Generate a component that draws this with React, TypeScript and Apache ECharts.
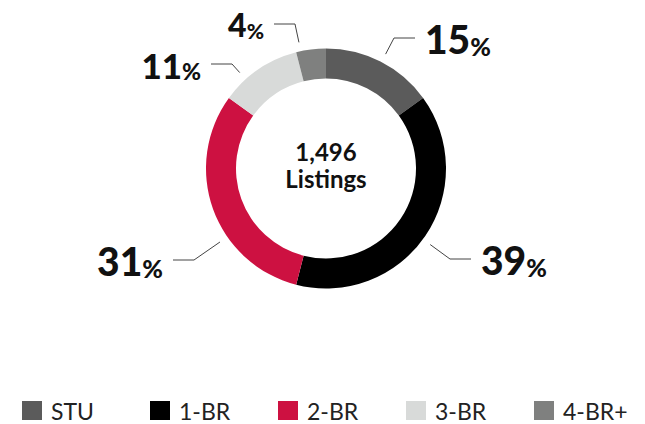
import React, { useEffect, useRef } from 'react';
import * as echarts from 'echarts';

// ---- data ----
const categories = ['STU', '1-BR', '2-BR', '3-BR', '4-BR+'];
const shares = [15, 39, 31, 11, 4];
const totalListings = '1,496';
const centerCaption = 'Listings';

// ---- styles / layout (not data) ----
const colors = ['#5b5b5b', '#000000', '#cd1141', '#d8dad9', '#7f807f'];
const labelSizeKeys = ['l', 'l', 'l', 'm', 's'];
const labelAnchors: [number, number, 'left' | 'right'][] = [
  [415, 38, 'left'],
  [471, 259, 'left'],
  [173, 260, 'right'],
  [211, 64, 'right'],
  [274, 24, 'right'],
];

const FONT = 'Lato, "Noto Sans", sans-serif';
const CENTER: [number, number] = [326, 168.5];
const LABEL_RING = 129;
const LINE_LEN2 = 21;

export default function App() {
  const ref = useRef<HTMLDivElement>(null);

  useEffect(() => {
    if (!ref.current) return;
    const chart = echarts.init(ref.current, null, { renderer: 'svg' });

    const ringData = categories.map((name, i) => ({
      name,
      value: shares[i],
      itemStyle: { color: colors[i] },
    }));
    const labelData = categories.map((name, i) => ({
      name,
      value: shares[i],
    }));

    chart.setOption({
      animation: false,
      legend: {
        left: 22,
        top: 397,
        padding: 0,
        itemWidth: 20,
        itemHeight: 19,
        itemGap: 29,
        icon: 'rect',
        selectedMode: false,
        data: categories,
        textStyle: {
          fontFamily: FONT,
          fontSize: 23,
          color: '#222',
          lineHeight: 27,
          width: 70,
          padding: [0, 0, 0, 4],
        },
      },
      graphic: [
        {
          type: 'text',
          x: 326,
          y: 165,
          silent: true,
          style: {
            text: totalListings + '\n' + centerCaption,
            align: 'center',
            verticalAlign: 'middle',
            fontFamily: FONT,
            fontWeight: 'bold',
            fontSize: 24,
            lineHeight: 27,
            fill: '#111',
          },
        },
      ],
      series: [
        {
          type: 'pie',
          center: CENTER,
          radius: [90, 120],
          startAngle: 90,
          clockwise: true,
          silent: true,
          label: { show: false },
          labelLine: { show: false },
          emphasis: { disabled: true },
          data: ringData,
        },
        {
          type: 'pie',
          center: CENTER,
          radius: [0, LABEL_RING],
          startAngle: 90,
          clockwise: true,
          silent: true,
          emphasis: { disabled: true },
          itemStyle: { color: 'transparent' },
          label: {
            show: true,
            position: 'outside',
            padding: [0, 10],
            formatter: (p: any) => {
              const k = labelSizeKeys[p.dataIndex];
              return `{v${k}|${p.value}}{p${k}|%}`;
            },
            rich: {
              vl: { fontFamily: FONT, fontWeight: 900, fontSize: 39, lineHeight: 40, verticalAlign: 'bottom', color: '#111' },
              pl: { fontFamily: FONT, fontWeight: 900, fontSize: 25, lineHeight: 31, verticalAlign: 'bottom', color: '#111' },
              vm: { fontFamily: FONT, fontWeight: 900, fontSize: 35, lineHeight: 36, verticalAlign: 'bottom', color: '#111' },
              pm: { fontFamily: FONT, fontWeight: 900, fontSize: 23, lineHeight: 28, verticalAlign: 'bottom', color: '#111' },
              vs: { fontFamily: FONT, fontWeight: 900, fontSize: 32, lineHeight: 33, verticalAlign: 'bottom', color: '#111' },
              ps: { fontFamily: FONT, fontWeight: 900, fontSize: 21, lineHeight: 26, verticalAlign: 'bottom', color: '#111' },
            },
          },
          labelLine: {
            show: true,
            length: 16,
            length2: LINE_LEN2,
            lineStyle: { color: '#444', width: 1 },
          },
          labelLayout: (p: any) => {
            const [x, y, align] = labelAnchors[p.dataIndex];
            const px = align === 'left' ? x - LINE_LEN2 : x + LINE_LEN2;
            const dx = px - CENTER[0];
            const dy = y - CENTER[1];
            const d = Math.sqrt(dx * dx + dy * dy);
            const sx = CENTER[0] + (dx * LABEL_RING) / d;
            const sy = CENTER[1] + (dy * LABEL_RING) / d;
            return {
              x,
              y,
              align,
              verticalAlign: 'middle',
              labelLinePoints: [
                [sx, sy],
                [px, y],
                [x, y],
              ],
            };
          },
          data: labelData,
        },
      ],
    });

    return () => chart.dispose();
  }, []);

  return (
    <div
      ref={ref}
      style={{ position: 'absolute', left: 0, top: 0, width: 645, height: 424 }}
    />
  );
}
